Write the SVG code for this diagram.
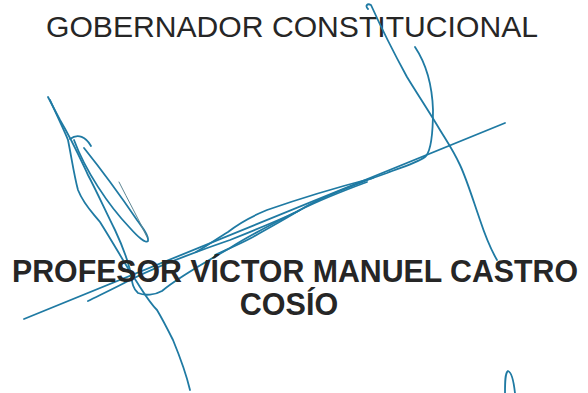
<svg xmlns="http://www.w3.org/2000/svg" width="588" height="393" viewBox="0 0 588 393">
<style>
.t{font-family:"Liberation Sans",Arial,sans-serif;fill:#262626}
.s{fill:none;stroke:#1f7aa3;stroke-width:1.8;stroke-linecap:round;stroke-linejoin:round}
.thin{fill:none;stroke:#5f8794;stroke-width:1;stroke-linecap:round}
</style>
<rect width="588" height="393" fill="#ffffff"/>
<g id="title">
<text class="t" x="292" y="37" font-size="30" text-anchor="middle" textLength="492" lengthAdjust="spacingAndGlyphs">GOBERNADOR CONSTITUCIONAL</text>
</g>
<g id="signature">
<path class="s" d="M368,9 C365,6 367,3 371,5 C380,25 395,55 407,77 C418,95 430,113 440,130 C448,143 453,150 460,165 C467,180 473,200 480,220 C485,235 490,248 497,260"/>
<path class="s" d="M415,47 C425,62 432,80 433,110 C433,135 431,150 426,156 C420,162 405,166 387,173 L373,178 C355,185 320,197 300,210 C270,225 245,238 230,248 C200,265 175,280 162,291 C155,295 145,296 138,293 C132,288 132,280 130,270 C127,258 122,245 115,230 C105,210 97,192 88,175 C80,158 72,140 60,120 L48,97"/>
<path class="s" d="M24,319 L505,123"/>
<path class="s" d="M88,301 C100,295 115,288 130,280 C160,265 195,252 230,240 C260,228 285,218 300,210"/>
<path class="s" d="M373,178 C350,184 310,195 267,210 C250,217 238,224 228,232 C215,240 205,247 196,252"/>
<path class="s" d="M367,182 C340,192 320,200 300,210 C280,222 265,230 253,237 C240,244 228,249 215,255"/>
<path class="s" d="M50,100 C58,118 65,132 68,140 C72,160 74,175 78,190 C84,205 92,212 100,222 C110,238 117,250 123,260 C130,272 136,280 140,287 C147,298 152,305 157,310 C163,320 168,330 173,340 C180,357 186,373 190,390"/>
<path class="s" d="M70,139 C78,133 86,137 91,146"/>
<path class="s" d="M74,140 C85,170 108,205 130,228 C138,237 146,244 148,241 C149,236 143,228 137,220 C120,195 100,168 84,148"/>
<path class="thin" d="M119,182 C128,200 138,218 147,237"/>
<path class="s" d="M505,393 C505,382 505,373 508,371 C512,372 514,384 515,393"/>
</g>
<g id="name">
<text class="t" x="295" y="282" font-size="30.5" font-weight="bold" text-anchor="middle" textLength="566" lengthAdjust="spacingAndGlyphs">PROFESOR VÍCTOR MANUEL CASTRO</text>
<text class="t" x="289" y="315" font-size="30.5" font-weight="bold" text-anchor="middle">COSÍO</text>
</g>
</svg>
